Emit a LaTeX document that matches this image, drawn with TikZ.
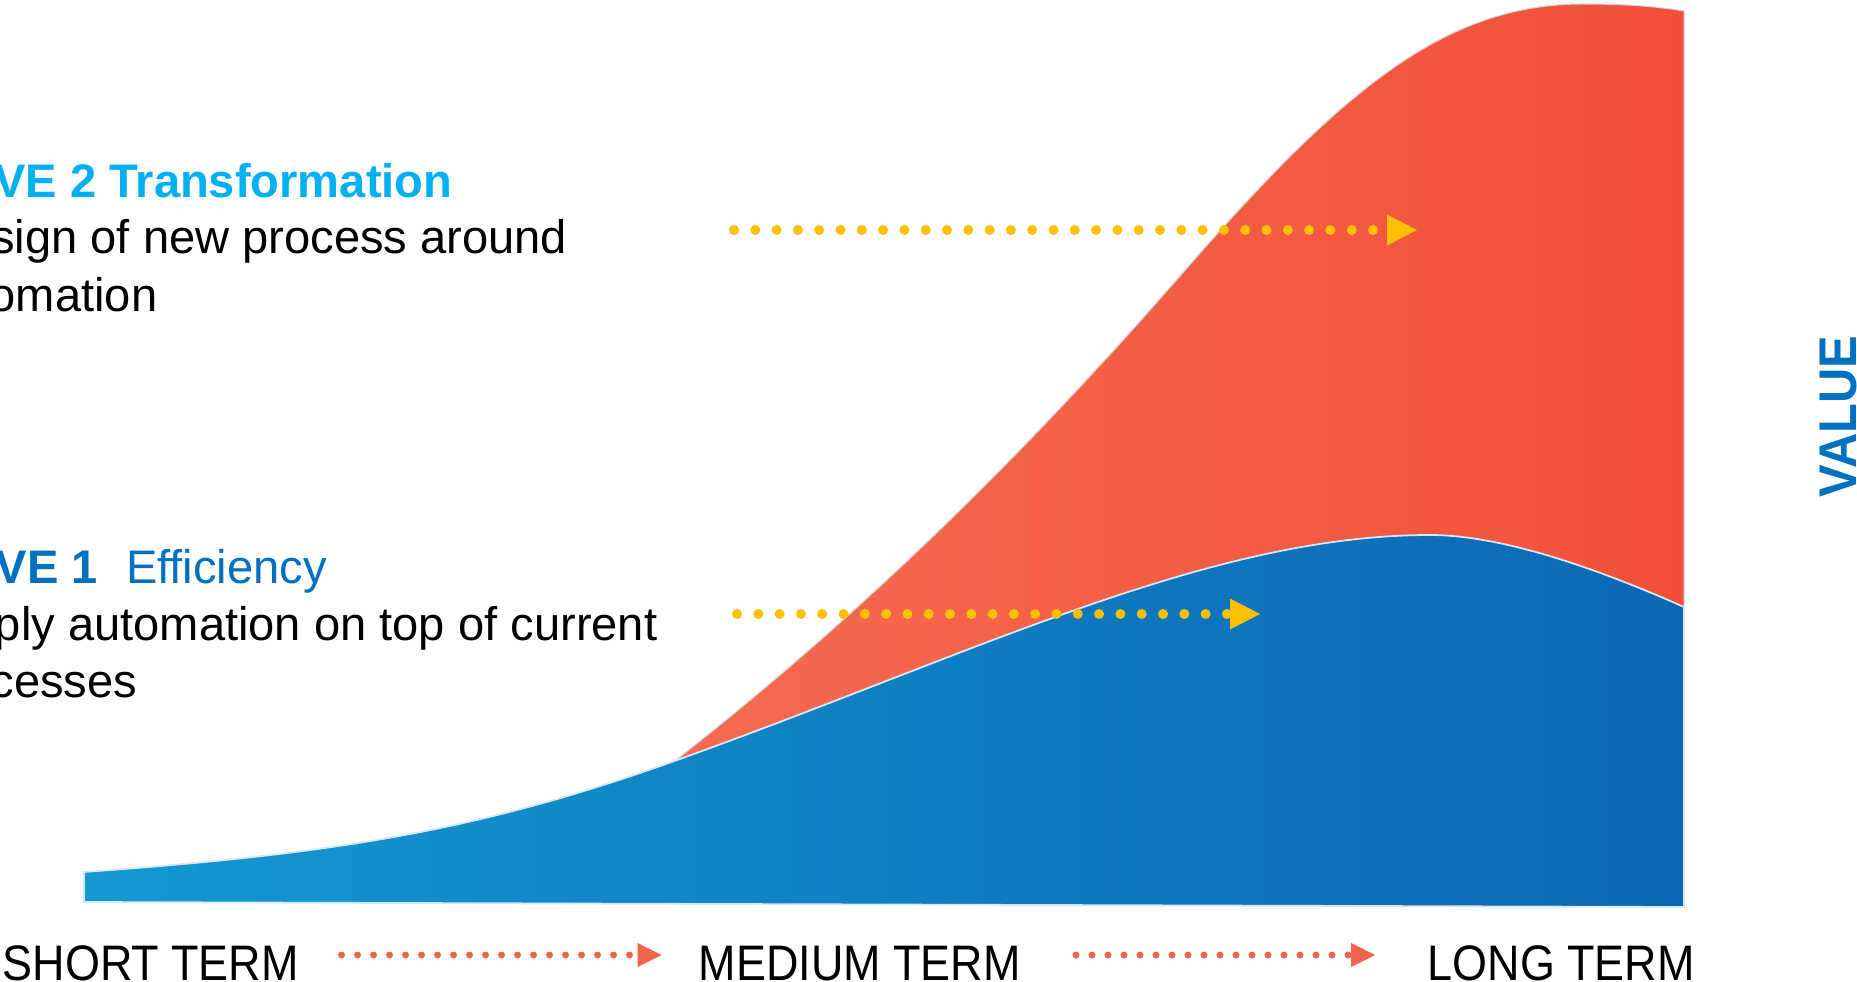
\documentclass[tikz,border=0pt]{standalone}
\usepackage{fontspec}
\setmainfont{Liberation Sans}
\newfontfamily\narrowfont[FakeStretch=0.9]{Liberation Sans}
\newfontfamily\valuefont[FakeStretch=0.92]{Liberation Sans}
\usepackage{xcolor}
\definecolor{wavecyan}{HTML}{00B0F0}
\definecolor{waveblue}{HTML}{0070C0}
\definecolor{gold}{HTML}{FFC000}
\definecolor{coral}{HTML}{F3624B}
\definecolor{redL}{HTML}{F56B50}
\definecolor{redR}{HTML}{F15038}
\definecolor{redE}{HTML}{D8D4D8}
\definecolor{blueL}{HTML}{1399D0}
\definecolor{blueM}{HTML}{118DCB}
\definecolor{blueR}{HTML}{0C66B5}
\definecolor{blueE}{HTML}{D6E8F4}
\usepackage{tikz}
\usetikzlibrary{arrows.meta,positioning}

\begin{document}
\begin{tikzpicture}[
    goldarrow/.style={gold, line width=1mm, line cap=round, dash pattern=on 0pt off 2.13mm,
      -{Triangle[length=3mm, width=3.1mm, line width=0pt]}},
    termarrow/.style={coral, line width=0.7mm, line cap=round, dash pattern=on 0pt off 1.6mm,
      -{Triangle[length=2.4mm, width=2.4mm, line width=0pt]}},
    wavetitle/.style={inner sep=0pt, font=\bfseries\fontsize{13.4}{16}\selectfont},
    wavetext/.style={inner sep=0pt, font=\fontsize{13.4}{16}\selectfont},
    termlabel/.style={inner sep=0pt, font=\narrowfont\fontsize{14.2}{17}\selectfont},
  ]
  \useasboundingbox (0,0) rectangle (18.57,9.81);
  \clip (0,0) rectangle (18.57,9.81);
  % Wave 2 area (behind)
  \shadedraw[left color=redL, right color=redR, draw=redE, line width=0.3pt]
    (6.76,2.21) .. controls (8.46,3.54) and (10.10,5.10) .. (11.80,7.05)
    .. controls (13.40,8.89) and (14.43,9.77) .. (15.83,9.77)
    .. controls (16.30,9.77) and (16.60,9.74) .. (16.84,9.70)
    -- (16.84,2.21) -- cycle;
  % Wave 1 area
  \shadedraw[left color=blueL, middle color=blueM, right color=blueR, draw=blueE, line width=0.5pt]
    (0.84,0.79) -- (0.84,1.09) .. controls (3.34,1.27) and (4.80,1.50) .. (6.80,2.22)
    .. controls (9.80,3.30) and (12.10,4.46) .. (14.30,4.46)
    .. controls (15.00,4.46) and (15.94,4.14) .. (16.84,3.74)
    -- (16.84,0.74) -- cycle;
  % Wave 2 text
  \node[wavetitle, text=wavecyan, anchor=base east] (wave2) at (4.53,7.83) {WAVE 2 Transformation};
  \node[wavetext, anchor=base east] (wave2a) at (5.68,7.27) {Redesign of new process around};
  \node[wavetext, anchor=base east] (wave2b) at (1.58,6.69) {automation};
  % Wave 1 text
  \node[wavetitle, text=waveblue, anchor=base east] (wave1) at (0.985,3.98) {WAVE 1};
  \node[wavetext, text=waveblue, anchor=base west] (wave1name) at (1.255,3.98) {Efficiency};
  \node[wavetext, anchor=base east] (wave1a) at (6.58,3.41) {Apply automation on top of current};
  \node[wavetext, anchor=base east] (wave1b) at (1.38,2.84) {processes};
  % Gold arrows
  \coordinate (g2s) at (7.34,7.51);
  \coordinate (g2e) at (14.17,7.51);
  \coordinate (g1s) at (7.37,3.67);
  \coordinate (g1e) at (12.60,3.67);
  \draw[goldarrow] (g2s) -- (g2e);
  \draw[goldarrow] (g1s) -- (g1e);
  % Time axis
  \node[termlabel, anchor=base west] (short) at (0.02,0.01) {SHORT TERM};
  \node[termlabel, anchor=base west] (medium) at (6.98,0.01) {MEDIUM TERM};
  \node[termlabel, anchor=base west] (long) at (14.27,0.01) {LONG TERM};
  \coordinate (t1s) at (3.415,0.26);
  \coordinate (t1e) at (6.616,0.26);
  \coordinate (t2s) at (10.76,0.26);
  \coordinate (t2e) at (13.75,0.26);
  \draw[termarrow] (t1s) -- (t1e);
  \draw[termarrow] (t2s) -- (t2e);
  % Value axis
  \node[inner sep=0pt, rotate=90, anchor=base west, text=waveblue,
    font=\valuefont\bfseries\fontsize{15.1}{18}\selectfont] (value) at (18.56,4.83) {VALUE};
\end{tikzpicture}
\end{document}
